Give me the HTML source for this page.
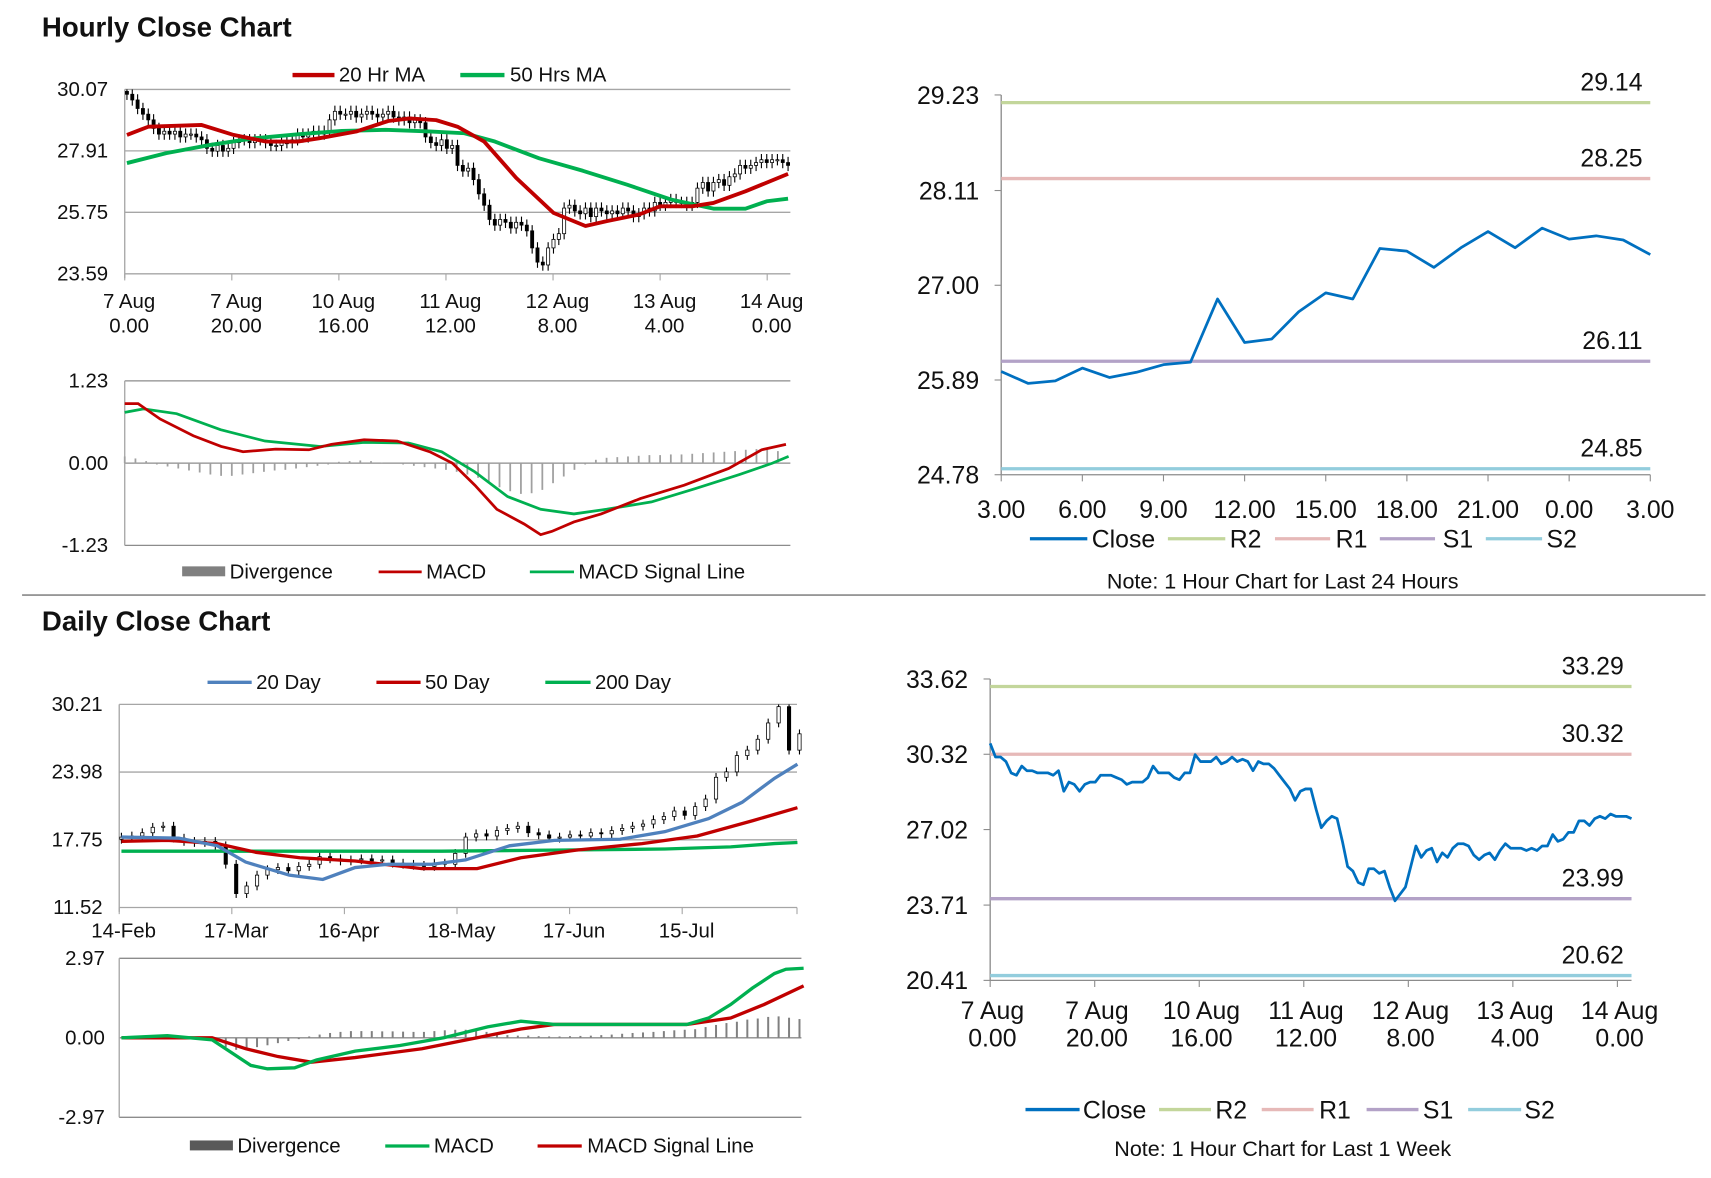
<!DOCTYPE html>
<html><head><meta charset="utf-8"><style>
html,body{margin:0;padding:0;background:#fff;}
svg{display:block;font-family:"Liberation Sans",Arial,sans-serif;}
text{fill:#111;}
</style></head><body>
<svg id="root" width="1711" height="1178" viewBox="0 0 1550 1067" preserveAspectRatio="none" xmlns="http://www.w3.org/2000/svg">
<g id="static">
<text x="38" y="33" font-size="25" font-weight="bold">Hourly Close Chart</text>
<text x="38" y="571" font-size="25" font-weight="bold">Daily Close Chart</text>
<line x1="20" y1="539" x2="1545" y2="539" stroke="#888" stroke-width="1.5"/>
<line x1="20" y1="1075" x2="1545" y2="1075" stroke="#888" stroke-width="1.5"/>
<g font-size="18.5">
<line x1="265" y1="68" x2="303" y2="68" stroke="#c00000" stroke-width="4"/><text x="307" y="74">20 Hr MA</text>
<line x1="417" y1="68" x2="457" y2="68" stroke="#00b050" stroke-width="4"/><text x="462" y="74">50 Hrs MA</text>
</g>
<g font-size="18.5">
<rect x="165" y="513" width="39" height="9" fill="#808080"/><text x="208" y="524">Divergence</text>
<line x1="343" y1="518" x2="382" y2="518" stroke="#c00000" stroke-width="2.5"/><text x="386" y="524">MACD</text>
<line x1="480" y1="518" x2="520" y2="518" stroke="#00b050" stroke-width="2.5"/><text x="524" y="524">MACD Signal Line</text>
</g>
<g font-size="18.5">
<line x1="188" y1="618" x2="228" y2="618" stroke="#4f81bd" stroke-width="3"/><text x="232" y="624">20 Day</text>
<line x1="341" y1="618" x2="381" y2="618" stroke="#c00000" stroke-width="3"/><text x="385" y="624">50 Day</text>
<line x1="494" y1="618" x2="535" y2="618" stroke="#00b050" stroke-width="3"/><text x="539" y="624">200 Day</text>
</g>
<g font-size="18.5">
<rect x="172" y="1033" width="39" height="9" fill="#595959"/><text x="215" y="1044">Divergence</text>
<line x1="349" y1="1038" x2="389" y2="1038" stroke="#00b050" stroke-width="3"/><text x="393" y="1044">MACD</text>
<line x1="487" y1="1038" x2="527" y2="1038" stroke="#c00000" stroke-width="3"/><text x="532" y="1044">MACD Signal Line</text>
</g>
<g font-size="22.5">
<line x1="933" y1="488" x2="985" y2="488" stroke="#0070c0" stroke-width="3"/><text x="989" y="496">Close</text>
<line x1="1058" y1="488" x2="1110" y2="488" stroke="#c3d69b" stroke-width="3"/><text x="1114" y="496">R2</text>
<line x1="1155" y1="488" x2="1205" y2="488" stroke="#e6b9b8" stroke-width="3"/><text x="1210" y="496">R1</text>
<line x1="1250" y1="488" x2="1300" y2="488" stroke="#b3a2c7" stroke-width="3"/><text x="1307" y="496">S1</text>
<line x1="1346" y1="488" x2="1397" y2="488" stroke="#93cddd" stroke-width="3"/><text x="1401" y="496">S2</text>
<text x="1162" y="533" font-size="19.5" text-anchor="middle">Note: 1 Hour Chart for Last 24 Hours</text>
</g>
<g font-size="22.5">
<line x1="929" y1="1005" x2="978" y2="1005" stroke="#0070c0" stroke-width="3"/><text x="981" y="1013">Close</text>
<line x1="1050" y1="1005" x2="1097" y2="1005" stroke="#c3d69b" stroke-width="3"/><text x="1101" y="1013">R2</text>
<line x1="1143" y1="1005" x2="1190" y2="1005" stroke="#e6b9b8" stroke-width="3"/><text x="1195" y="1013">R1</text>
<line x1="1238" y1="1005" x2="1285" y2="1005" stroke="#b3a2c7" stroke-width="3"/><text x="1289" y="1013">S1</text>
<line x1="1330" y1="1005" x2="1378" y2="1005" stroke="#93cddd" stroke-width="3"/><text x="1381" y="1013">S2</text>
<text x="1162" y="1047" font-size="19.5" text-anchor="middle">Note: 1 Hour Chart for Last 1 Week</text>
</g>
</g>
<g id="dyn"></g>
</svg>
<script>
// ---------- data ----------
const hourCloses=[29.9,29.7,29.4,29.2,29.0,28.7,28.5,28.6,28.5,28.6,28.4,28.5,28.5,28.4,28.3,28.0,27.9,28.1,27.9,28.0,28.2,28.3,28.3,28.2,28.3,28.3,28.2,28.1,28.1,28.2,28.2,28.3,28.5,28.4,28.5,28.6,28.5,28.6,29.0,29.3,29.2,29.2,29.3,29.1,29.2,29.3,29.2,29.1,29.2,29.3,29.1,29.0,29.1,28.9,29.0,28.9,28.4,28.2,28.1,28.3,28.0,28.1,27.4,27.2,27.3,26.9,26.4,26.0,25.5,25.3,25.5,25.4,25.2,25.4,25.3,25.1,24.5,24.0,23.9,24.5,24.8,25.0,25.9,26.0,25.8,25.7,25.9,25.6,25.9,25.8,25.7,25.8,25.7,25.9,25.8,25.6,25.7,25.9,25.8,26.1,26.0,26.1,26.2,26.1,26.1,26.0,26.1,26.6,26.8,26.5,26.8,26.9,26.7,27.0,27.1,27.4,27.3,27.4,27.5,27.6,27.5,27.6,27.6,27.5,27.4];
const weekCloses=[30.8,30.2,30.2,30.0,29.5,29.4,29.8,29.6,29.6,29.5,29.5,29.5,29.4,29.6,28.7,29.1,29.0,28.7,29.0,29.1,29.1,29.4,29.4,29.4,29.3,29.2,29.0,29.1,29.1,29.1,29.3,29.8,29.5,29.5,29.5,29.3,29.2,29.5,29.5,30.3,30.0,30.0,30.0,30.2,29.9,30.0,30.2,30.0,30.1,30.0,29.6,30.0,29.9,29.9,29.7,29.4,29.1,28.8,28.3,28.7,28.8,28.8,27.9,27.1,27.4,27.6,27.5,26.5,25.4,25.2,24.7,24.6,25.3,25.3,25.1,25.2,24.5,23.9,24.2,24.5,25.4,26.3,25.8,26.1,26.2,25.6,26.0,25.8,26.2,26.4,26.4,26.3,25.9,25.7,25.9,26.0,25.7,26.1,26.4,26.2,26.2,26.2,26.1,26.2,26.1,26.3,26.3,26.8,26.5,26.6,26.9,26.9,27.4,27.4,27.2,27.5,27.6,27.5,27.7,27.6,27.6,27.6,27.5];
const ma20Idx=[0,4,14,20,26,32,36,43,49,53,58,62,67,73,80,86,90,96,100,106,110,116,124];
const ma20Vals=[28.47,28.76,28.82,28.47,28.24,28.24,28.35,28.59,28.96,29.05,28.99,28.76,28.24,26.96,25.73,25.27,25.44,25.67,25.96,25.96,26.08,26.49,27.10];
const ma50Idx=[0,7.4,15.6,23.8,32,40.3,48.5,56.7,63.3,69,77.3,85.5,93.8,102,110,116,120,124];
const ma50Vals=[27.48,27.83,28.12,28.35,28.49,28.61,28.65,28.59,28.53,28.24,27.65,27.21,26.72,26.20,25.88,25.88,26.14,26.23];
const hYTicks=["30.07","27.91","25.75","23.59"];
const hXTicks=[["7 Aug","0.00"],["7 Aug","20.00"],["10 Aug","16.00"],["11 Aug","12.00"],["12 Aug","8.00"],["13 Aug","4.00"],["14 Aug","0.00"]];
const hMacdIdx=[0,2.5,6.6,12.8,18,22.1,28.2,34.4,38.6,44.7,50.9,57,61.2,65.4,69.5,74.6,77.7,79.8,83.9,89,96.3,104.5,112.8,118.96,123.5];
const hMacdVals=[0.89,0.89,0.66,0.41,0.25,0.17,0.21,0.2,0.28,0.35,0.33,0.17,0,-0.33,-0.69,-0.91,-1.07,-1.02,-0.88,-0.76,-0.53,-0.33,-0.08,0.20,0.28];
const hSigIdx=[0,3.5,9.7,17.9,26.2,36.5,44.7,53,59.2,65.4,71.5,77.7,83.9,90,98.4,106.6,114.8,121,124];
const hSigVals=[0.76,0.81,0.74,0.5,0.33,0.25,0.31,0.30,0.17,-0.13,-0.5,-0.69,-0.76,-0.69,-0.58,-0.38,-0.17,0,0.1];
const hDiv=[0.1,0.07,0.03,-0.02,-0.05,-0.08,-0.11,-0.14,-0.17,-0.19,-0.19,-0.17,-0.15,-0.13,-0.11,-0.1,-0.08,-0.06,-0.04,-0.02,0.02,0.03,0.04,0.03,0.01,0,-0.02,-0.04,-0.06,-0.08,-0.1,-0.13,-0.17,-0.22,-0.3,-0.36,-0.42,-0.46,-0.45,-0.4,-0.3,-0.2,-0.1,-0.02,0.05,0.08,0.09,0.1,0.11,0.12,0.12,0.13,0.13,0.14,0.15,0.16,0.17,0.18,0.2,0.21,0.2,0.18];
const hMacdTicks=["1.23","0.00","-1.23"];
const dayCloses=[25.99,25.85,25.88,26.03,25.92,25.98,26.07,26.10,26.84,26.33,26.37,26.69,26.91,26.84,27.43,27.40,27.21,27.44,27.63,27.44,27.67,27.54,27.58,27.53,27.36];
const dayXTicks=["3.00","6.00","9.00","12.00","15.00","18.00","21.00","0.00","3.00"];
const dayYTicks=["29.23","28.11","27.00","25.89","24.78"];
const dayLevels=[29.14,28.25,26.11,24.85];
const levelNames=["r2","r1","s1","s2"];
const levelColors=["#c3d69b","#e6b9b8","#b3a2c7","#93cddd"];
const weekLevels=[33.29,30.32,23.99,20.62];
const weekYTicks=["33.62","30.32","27.02","23.71","20.41"];
const dCloses=[18.0,18.1,18.4,18.9,19.0,17.9,17.6,17.5,17.6,17.2,15.5,12.8,13.5,14.5,15.0,15.2,14.9,15.3,15.5,16.2,16.0,15.8,15.9,16.0,15.8,15.9,15.6,15.5,15.4,15.3,15.6,15.5,16.5,18.0,18.3,18.1,18.6,18.8,19.0,18.4,18.2,17.9,18.0,18.2,18.1,18.4,18.3,18.6,18.8,19.0,19.2,19.6,19.9,20.4,20.0,20.8,21.5,23.5,24.0,25.5,26.0,27.0,28.5,30.0,26.0,27.5];
const d20Idx=[0,5.5,9.2,11.9,16.1,19.3,22.4,25.6,29.8,33,37.2,41.5,47.8,52.1,56.3,59.5,62.6,64.8];
const d20Vals=[18.0,17.9,17.2,15.7,14.5,14.1,15.2,15.5,15.5,15.9,17.2,17.7,17.8,18.5,19.7,21.2,23.4,24.7];
const d50Idx=[0,4.4,9.2,12.9,17.1,22.4,28.8,34.1,38.3,43.6,49.9,55.2,60.5,64.8];
const d50Vals=[17.6,17.7,17.4,16.6,16.1,15.8,15.1,15.1,16.1,16.8,17.4,18.1,19.5,20.7];
const d200Idx=[0,30.7,41.3,52.1,58.4,62.6,64.8];
const d200Vals=[16.7,16.7,16.8,16.9,17.1,17.4,17.5];
const dYTicks=["30.21","23.98","17.75","11.52"];
const dXTicks=["14-Feb","17-Mar","16-Apr","18-May","17-Jun","15-Jul"];
const dMacdIdx=[0,4.4,8.7,10.8,12.4,14,16.6,18.7,22.4,26.7,30.9,35.1,38.3,41.5,47.8,54.2,56.3,58.4,60.5,62.6,63.7,65.4];
const dMacdVals=[0,0.08,-0.08,-0.62,-1.03,-1.16,-1.12,-0.83,-0.5,-0.29,0,0.41,0.62,0.5,0.5,0.5,0.74,1.24,1.86,2.4,2.56,2.6];
const dSigIdx=[0,8.7,11.9,15,18.2,22.4,28.8,34.1,38.3,41.5,54.2,58.4,61.6,65.4];
const dSigVals=[0,0,-0.41,-0.7,-0.91,-0.74,-0.41,0,0.33,0.5,0.5,0.74,1.24,1.94];
const dDiv=[0.02,0.03,0.05,0.04,0.02,0,-0.02,-0.05,-0.1,-0.2,-0.35,-0.45,-0.42,-0.35,-0.28,-0.2,-0.12,-0.05,0.05,0.12,0.18,0.22,0.25,0.25,0.25,0.24,0.24,0.23,0.22,0.22,0.25,0.28,0.3,0.3,0.28,0.22,0.15,0.1,0.08,0.08,0.06,0.05,0.05,0.06,0.07,0.08,0.1,0.12,0.15,0.18,0.2,0.22,0.25,0.28,0.3,0.32,0.4,0.48,0.55,0.6,0.68,0.72,0.78,0.8,0.75,0.7];
const dMacdTicks=["2.97","0.00","-2.97"];

// ---------- helpers ----------
const NS="http://www.w3.org/2000/svg";
const dyn=document.getElementById('dyn');
function mk(tag,attrs,parent){const e=document.createElementNS(NS,tag);for(const k in attrs)e.setAttribute(k,attrs[k]);(parent||dyn).appendChild(e);return e;}
function pathD(xs,ys){return xs.map((x,i)=>(i?'L':'M')+x.toFixed(1)+' '+ys[i].toFixed(1)).join(' ');}
function lin(d0,d1,r0,r1){return v=>r0+(v-d0)*(r1-r0)/(d1-d0);}
const LF=18.5, RF=22.5;

// ---------- hourly price chart ----------
{
const X=i=>115+i*4.83, Y=lin(30.07,23.59,81,248);
const g=mk('g',{});


hYTicks.forEach(t=>{const y=Y(parseFloat(t));
 mk('line',{x1:113,x2:716,y1:y,y2:y,stroke:'#a6a6a6','stroke-width':1.2},g);
 const tx=mk('text',{x:98,y:y+6,'font-size':LF,'text-anchor':'end'},g);tx.textContent=t;
 });
mk('line',{x1:113,x2:113,y1:81,y2:252,stroke:'#a6a6a6','stroke-width':1.2},g);
hXTicks.forEach((t,k)=>{const x=113+k*97;
 mk('line',{x1:x,x2:x,y1:248,y2:254,stroke:'#a6a6a6'},g);
 const tx=mk('text',{x:x+4,y:279,'font-size':LF,'text-anchor':'middle'},g);tx.textContent=t[0];
 
 const t2=mk('text',{x:x+4,y:301,'font-size':LF,'text-anchor':'middle'},g);t2.textContent=t[1];});
hourCloses.forEach((c,i)=>{const o=i?hourCloses[i-1]:c+0.1;const x=X(i);
 const hi=Math.max(o,c)+0.2,lo=Math.min(o,c)-0.2;
 mk('line',{x1:x,x2:x,y1:Y(Math.min(hi,30.07)),y2:Y(Math.max(lo,23.59)),stroke:'#000','stroke-width':1},g);
 const b=mk('rect',{x:x-1.4,y:Y(Math.max(o,c)),width:2.8,height:Math.max(1,Math.abs(Y(o)-Y(c))),fill:c>=o?'#fff':'#000',stroke:'#000','stroke-width':0.7},g);
 });
const p1=mk('path',{d:pathD(ma50Idx.map(X),ma50Vals.map(Y)),fill:'none',stroke:'#00b050','stroke-width':3.5,'stroke-linejoin':'round'},g);

const p2=mk('path',{d:pathD(ma20Idx.map(X),ma20Vals.map(Y)),fill:'none',stroke:'#c00000','stroke-width':3.5,'stroke-linejoin':'round'},g);

}
// ---------- hourly MACD ----------
{
const X=i=>113+i*4.85, Y=lin(1.23,-1.23,345,494);
const g=mk('g',{});


hMacdTicks.forEach(t=>{const y=Y(parseFloat(t));
 mk('line',{x1:113,x2:716,y1:y,y2:y,stroke:'#8c8c8c','stroke-width':1.2},g);
 const tx=mk('text',{x:98,y:y+6,'font-size':LF,'text-anchor':'end'},g);tx.textContent=t;
 });
mk('line',{x1:113,x2:113,y1:345,y2:494,stroke:'#a6a6a6','stroke-width':1.2},g);
hDiv.forEach((v,k)=>{const x=X(k*2);
 const b=mk('rect',{x:x-0.8,y:Math.min(Y(v),Y(0)),width:1.6,height:Math.abs(Y(v)-Y(0)),fill:'#a0a0a0'},g);
 });
const s=mk('path',{d:pathD(hSigIdx.map(X),hSigVals.map(Y)),fill:'none',stroke:'#00b050','stroke-width':2.5},g);

const m=mk('path',{d:pathD(hMacdIdx.map(X),hMacdVals.map(Y)),fill:'none',stroke:'#c00000','stroke-width':2.5},g);

}
// ---------- pivot chart builder ----------
function pivotChart(name,x0,x1,yTop,yBot,vTop,vBot,yTicks,levels,closes,xTickFn){
 const Y=lin(vTop,vBot,yTop,yBot), X=i=>x0+i*(x1-x0)/(closes.length-1);
 const g=mk('g',{});
 
 
 mk('line',{x1:x0,x2:x0,y1:yTop,y2:yBot,stroke:'#8c8c8c','stroke-width':1.2},g);
 mk('line',{x1:x0,x2:x1,y1:yBot,y2:yBot,stroke:'#8c8c8c','stroke-width':1.2},g);
 yTicks.forEach(t=>{const y=Y(parseFloat(t));
  mk('line',{x1:x0-6,x2:x0,y1:y,y2:y,stroke:'#8c8c8c'},g);
  const tx=mk('text',{x:x0-20,y:y+8,'font-size':RF,'text-anchor':'end'},g);tx.textContent=t;
  });
 levels.forEach((v,k)=>{const y=Y(v);
  const l=mk('line',{x1:x0,x2:x1,y1:y,y2:y,stroke:levelColors[k],'stroke-width':3},g);
  
  const tx=mk('text',{x:x1-7,y:y-11,'font-size':RF,'text-anchor':'end'},g);tx.textContent=v.toFixed(2);
  });
 xTickFn(g);
 const p=mk('path',{d:pathD(closes.map((c,i)=>X(i)),closes.map(Y)),fill:'none',stroke:'#0070c0','stroke-width':2.5,'stroke-linejoin':'round'},g);
 
}
pivotChart('pivot-24h-chart',907,1495,86,430,29.23,24.78,dayYTicks,dayLevels,dayCloses,(g)=>{
 dayXTicks.forEach((t,k)=>{const x=907+k*73.5;
  mk('line',{x1:x,x2:x,y1:430,y2:436,stroke:'#8c8c8c'},g);
  const tx=mk('text',{x:x,y:469,'font-size':RF,'text-anchor':'middle'},g);tx.textContent=t;
  });});
pivotChart('pivot-week-chart',897,1478,615,888,33.62,20.41,weekYTicks,weekLevels,weekCloses,(g)=>{
 hXTicks.forEach((t,k)=>{const x=897+k*94.7;
  mk('line',{x1:x,x2:x,y1:888,y2:894,stroke:'#8c8c8c'},g);
  const tx=mk('text',{x:x+2,y:923,'font-size':RF,'text-anchor':'middle'},g);tx.textContent=t[0];
  
  const t2=mk('text',{x:x+2,y:948,'font-size':RF,'text-anchor':'middle'},g);t2.textContent=t[1];});});
// ---------- daily price ----------
{
const X=i=>110+i*9.45, Y=lin(30.21,11.52,638,822);
const g=mk('g',{});


dYTicks.forEach(t=>{const y=Y(parseFloat(t));
 mk('line',{x1:108,x2:722,y1:y,y2:y,stroke:'#a6a6a6','stroke-width':1.2},g);
 const tx=mk('text',{x:93,y:y+6,'font-size':LF,'text-anchor':'end'},g);tx.textContent=t;
 });
mk('line',{x1:108,x2:108,y1:638,y2:826,stroke:'#a6a6a6','stroke-width':1.2},g);
dXTicks.forEach((t,k)=>{const x=108+k*102;
 mk('line',{x1:x,x2:x,y1:822,y2:828,stroke:'#a6a6a6'},g);
 const tx=mk('text',{x:x+4,y:849,'font-size':LF,'text-anchor':'middle'},g);tx.textContent=t;
 });
mk('line',{x1:722,x2:722,y1:822,y2:828,stroke:'#a6a6a6'},g);
dCloses.forEach((c,i)=>{const o=i?dCloses[i-1]:c-0.2;const x=X(i);
 const hi=Math.max(o,c)+0.4,lo=Math.min(o,c)-0.4;
 mk('line',{x1:x,x2:x,y1:Y(Math.min(hi,30.21)),y2:Y(lo),stroke:'#000','stroke-width':1},g);
 const b=mk('rect',{x:x-1.5,y:Y(Math.max(o,c)),width:3,height:Math.max(1,Math.abs(Y(o)-Y(c))),fill:c>=o?'#fff':'#000',stroke:'#000','stroke-width':0.7},g);
 });
const a=mk('path',{d:pathD(d200Idx.map(X),d200Vals.map(Y)),fill:'none',stroke:'#00b050','stroke-width':3},g);

const b2=mk('path',{d:pathD(d50Idx.map(X),d50Vals.map(Y)),fill:'none',stroke:'#c00000','stroke-width':3},g);

const c2=mk('path',{d:pathD(d20Idx.map(X),d20Vals.map(Y)),fill:'none',stroke:'#4f81bd','stroke-width':3},g);

}
// ---------- daily MACD ----------
{
const X=i=>110+i*9.45, Y=lin(2.97,-2.97,868,1012);
const g=mk('g',{});


dMacdTicks.forEach(t=>{const y=Y(parseFloat(t));
 mk('line',{x1:108,x2:726,y1:y,y2:y,stroke:'#8c8c8c','stroke-width':1.2},g);
 const tx=mk('text',{x:95,y:y+6,'font-size':LF,'text-anchor':'end'},g);tx.textContent=t;
 });
mk('line',{x1:108,x2:108,y1:868,y2:1012,stroke:'#a6a6a6','stroke-width':1.2},g);
dDiv.forEach((v,k)=>{const x=X(k);
 const b=mk('rect',{x:x-0.9,y:Math.min(Y(v),Y(0)),width:1.8,height:Math.abs(Y(v)-Y(0)),fill:'#808080'},g);
 });
const s=mk('path',{d:pathD(dSigIdx.map(X),dSigVals.map(Y)),fill:'none',stroke:'#c00000','stroke-width':3},g);

const m=mk('path',{d:pathD(dMacdIdx.map(X),dMacdVals.map(Y)),fill:'none',stroke:'#00b050','stroke-width':3},g);

}
</script>
</body></html>
